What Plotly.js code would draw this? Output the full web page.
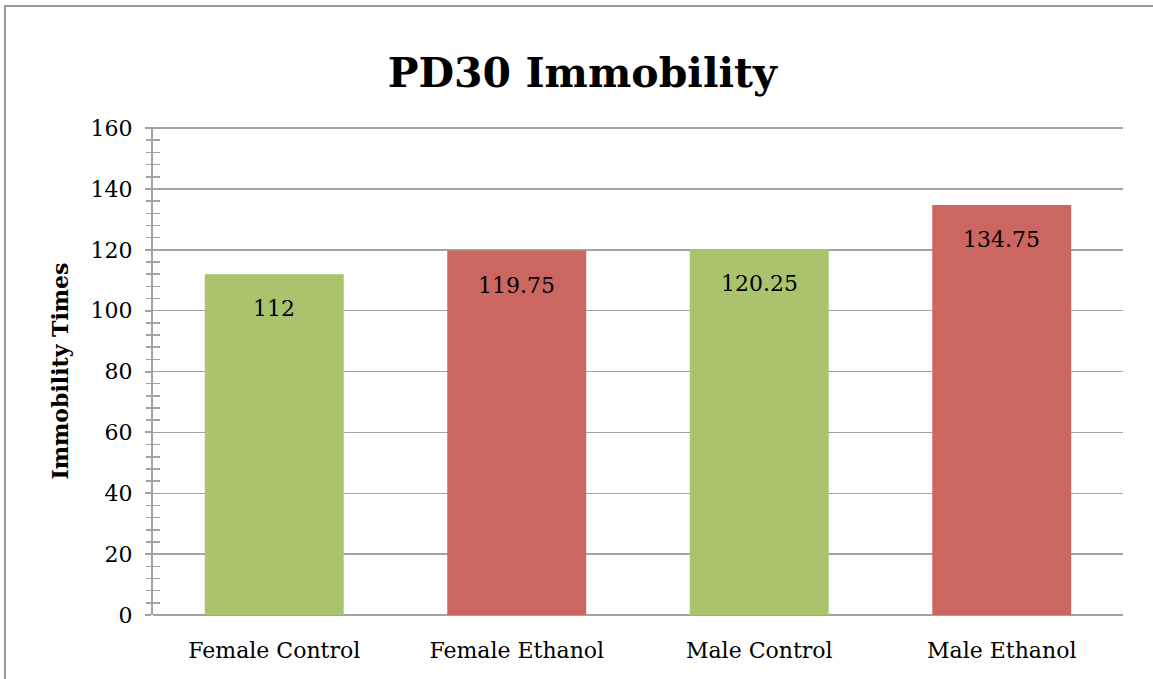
<!DOCTYPE html>
<html>
<head>
<meta charset="utf-8">
<script src="https://cdn.plot.ly/plotly-3.0.1.min.js"></script>
<style>
  html, body { margin: 0; padding: 0; background: #fff; overflow: hidden; }
  #frame { position: absolute; left: 4px; top: 5px; width: 1200px; height: 700px;
           border-left: 2px solid #999; border-top: 2px solid #999; }
  #chart { position: absolute; left: 0; top: 0; width: 1153px; height: 679px; }
</style>
</head>
<body>
<div id="frame"></div>
<div id="chart"></div>
<script>
const categories = ["Female Control", "Female Ethanol", "Male Control", "Male Ethanol"];
const values = [112, 119.75, 120.25, 134.75];
const valueLabels = ["112", "119.75", "120.25", "134.75"];
const barColors = ["#A9C46C", "#CC6660", "#A9C46C", "#CC6660"];
const yTickValues = [0, 20, 40, 60, 80, 100, 120, 140, 160];

const serif = "DejaVu Serif, Liberation Serif, serif";

const trace = {
  type: "bar",
  x: categories,
  y: values,
  marker: { color: barColors, line: { width: 0 } },
  hoverinfo: "skip"
};

const annotations = categories.map((c, i) => ({
  x: c, y: values[i], xref: "x", yref: "y",
  text: valueLabels[i], showarrow: false,
  yanchor: "top", yshift: -20,
  font: { family: serif, size: 22, color: "#000" }
}));

const layout = {
  width: 1153, height: 679,
  margin: { l: 153, r: 30, t: 127, b: 64 },
  paper_bgcolor: "rgba(0,0,0,0)",
  plot_bgcolor: "rgba(0,0,0,0)",
  bargap: 0.427,
  showlegend: false,
  title: {
    text: "<b>PD30 Immobility</b>",
    x: 0.505, xref: "container", xanchor: "center",
    y: 0.893, yref: "container", yanchor: "middle",
    font: { family: serif, size: 41, color: "#000" }
  },
  xaxis: {
    type: "category",
    showgrid: false,
    showline: false,
    ticks: "",
    tickfont: { family: serif, size: 22, color: "#000" },
    ticklabelstandoff: 20
  },
  yaxis: {
    range: [0, 160.35],
    tickvals: yTickValues,
    ticktext: yTickValues.map(String),
    showgrid: true, gridcolor: "#A3A3A3", gridwidth: 1.5,
    zeroline: true, zerolinecolor: "#A3A3A3", zerolinewidth: 2,
    showline: true, linecolor: "#A3A3A3", linewidth: 2,
    ticks: "outside", ticklen: 6, tickwidth: 2, tickcolor: "#A3A3A3",
    minor: { dtick: 4, ticks: "outside", ticklen: 5, tickwidth: 1.5, tickcolor: "#A3A3A3", showgrid: false },
    tickfont: { family: serif, size: 22, color: "#000" },
    ticklabelstandoff: 8,
    title: { text: "<b>Immobility Times</b>", font: { family: serif, size: 22, color: "#000" }, standoff: 16 }
  },
  yaxis2: {
    overlaying: "y", side: "left", range: [0, 160.35],
    showgrid: false, zeroline: false, showline: false, showticklabels: false,
    tickvals: yTickValues, ticks: "",
    minor: { dtick: 4, ticks: "inside", ticklen: 7, tickwidth: 1.5, tickcolor: "#A3A3A3", showgrid: false }
  },
  annotations: annotations
};

const dummy = { type: "scatter", x: [categories[0]], y: [0], yaxis: "y2", mode: "none", hoverinfo: "skip" };

Plotly.newPlot("chart", [trace, dummy], layout, { displayModeBar: false, staticPlot: true });
</script>
</body>
</html>
